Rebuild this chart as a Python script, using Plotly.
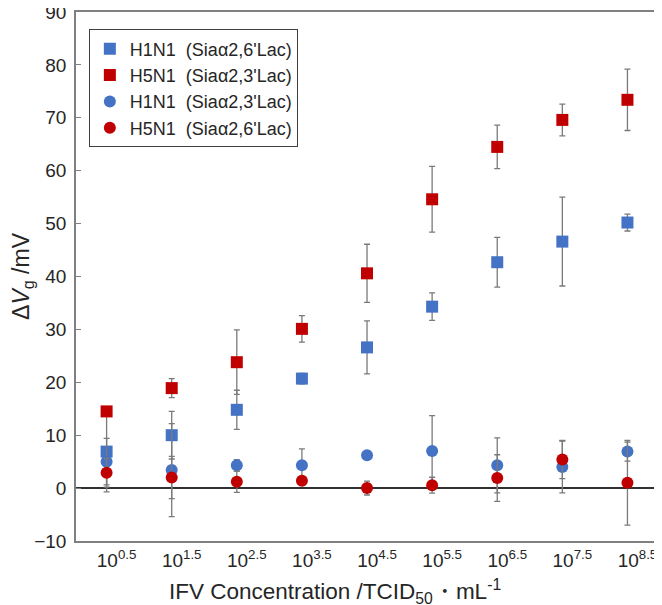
import plotly.graph_objects as go

categories = ["10<sup>0.5</sup>", "10<sup>1.5</sup>", "10<sup>2.5</sup>", "10<sup>3.5</sup>",
              "10<sup>4.5</sup>", "10<sup>5.5</sup>", "10<sup>6.5</sup>", "10<sup>7.5</sup>",
              "10<sup>8.5</sup>"]

h1n1_26_mean = [6.9, 10.0, 14.8, 20.7, 26.6, 34.3, 42.7, 46.6, 50.2]
h1n1_26_err = [7.6, 4.5, 3.7, 1.0, 5.0, 2.6, 4.7, 8.4, 1.6]

h5n1_23_mean = [14.5, 18.9, 23.8, 30.1, 40.6, 54.6, 64.5, 69.6, 73.4]
h5n1_23_err = [0.4, 1.8, 6.1, 2.5, 5.5, 6.2, 4.1, 3.0, 5.8]

h1n1_23_mean = [5.0, 3.4, 4.3, 4.3, 6.2, 7.0, 4.3, 4.0, 6.9]
h1n1_23_err = [4.4, 8.8, 1.1, 3.1, 0.5, 6.7, 5.2, 4.9, 1.8]

h5n1_26_mean = [2.9, 2.0, 1.2, 1.4, 0.0, 0.55, 1.9, 5.4, 1.0]
h5n1_26_err = [2.7, 4.0, 2.0, 0.5, 1.3, 1.5, 4.4, 3.6, 8.0]

series = [
    ("H1N1\u00a0\u00a0(Sia\u03b12,6'Lac)", h1n1_26_mean, h1n1_26_err, "square", "#4472C4", 12),
    ("H5N1\u00a0\u00a0(Sia\u03b12,3'Lac)", h5n1_23_mean, h5n1_23_err, "square", "#C00000", 12),
    ("H1N1\u00a0\u00a0(Sia\u03b12,3'Lac)", h1n1_23_mean, h1n1_23_err, "circle", "#4472C4", 12),
    ("H5N1\u00a0\u00a0(Sia\u03b12,6'Lac)", h5n1_26_mean, h5n1_26_err, "circle", "#C00000", 12),
]

FONT = "Liberation Sans, Arial, sans-serif"

fig = go.Figure()
for name, mean, err, sym, col, size in series:
    fig.add_trace(go.Scatter(
        x=categories, y=mean, name=name, mode="markers",
        marker=dict(symbol=sym, color=col, size=size, line=dict(width=0)),
        error_y=dict(type="data", array=err, visible=True, color="#7a7a7a",
                     thickness=1.3, width=3),
    ))

fig.update_layout(
    width=662, height=605,
    margin=dict(l=68, r=10, t=4, b=72),
    paper_bgcolor="white", plot_bgcolor="white",
    font=dict(family=FONT, size=19, color="#262626"),
    showlegend=True,
    legend=dict(x=0.022, y=0.967, xanchor="left", yanchor="top",
                bordercolor="#404040", borderwidth=1, bgcolor="white",
                font=dict(size=18, color="#262626"), itemwidth=30,
                tracegroupgap=0),
    xaxis=dict(type="category", range=[-0.47, 8.5], showgrid=False, zeroline=False,
               showline=True, linecolor="#808080", linewidth=1.5, mirror=True,
               ticks="", tickfont=dict(size=19), ticklabelshift=10,
               ticklabelstandoff=1, automargin=False, ticklabeloverflow="allow"),
    yaxis=dict(range=[-10, 90], dtick=10, showgrid=False,
               zeroline=True, zerolinecolor="#303030", zerolinewidth=1.5,
               showline=True, linecolor="#808080", linewidth=1.5, mirror=True,
               ticks="inside", ticklen=5, tickcolor="#808080",
               tickfont=dict(size=19), automargin=False, ticklabeloverflow="allow",
               ticklabelstandoff=4,
               title=dict(text="\u0394<i>V</i><sub>g</sub> /mV", font=dict(size=23),
                          standoff=15)),
    annotations=[dict(
        text="IFV Concentration /TCID<sub>50</sub>\u30FBmL<sup>-1</sup>",
        xref="paper", yref="paper", x=0.4435, y=-0.062,
        xanchor="center", yanchor="top", showarrow=False,
        font=dict(size=22.5, color="#262626"),
    )],
)

fig.write_html("out.html")
